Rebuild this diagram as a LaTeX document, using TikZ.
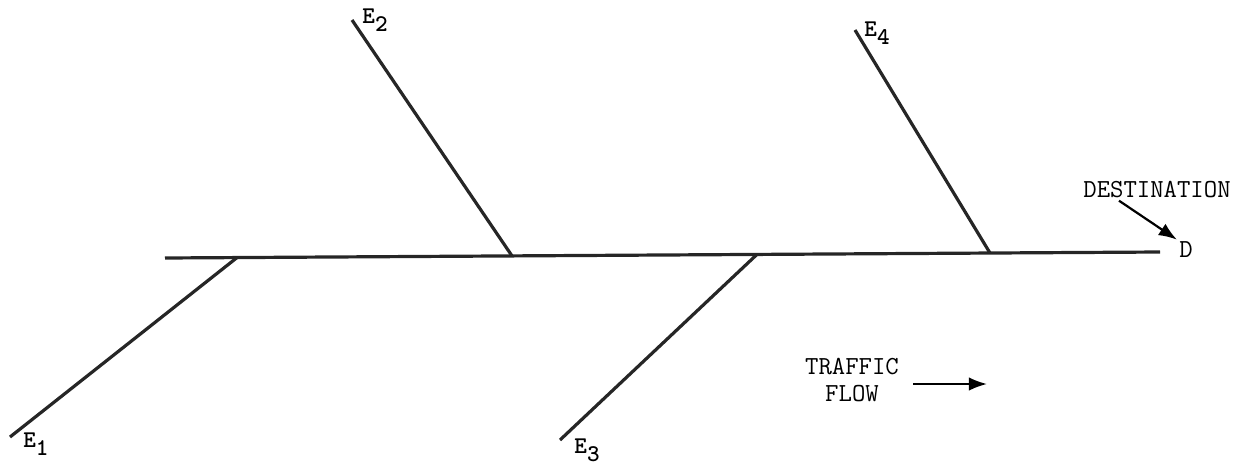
\documentclass[tikz,border=0pt]{standalone}
\usepackage{fontspec}
\usetikzlibrary{arrows.meta,positioning}
\newcommand{\entry}[1]{E\raisebox{-0.8ex}{#1}}
\tikzset{
  road/.style={line width=1.6pt, draw=black!85},
  entrylabel/.style={font=\ttfamily\bfseries\fontsize{12}{13}\selectfont, inner sep=1pt},
  caption/.style={font=\ttfamily\fontsize{13}{13.5}\selectfont, align=center, inner sep=1pt},
  flowarrow/.style={-{Latex[length=3.2mm,width=2.4mm]}, line width=1.1pt}
}

\begin{document}
\begin{tikzpicture}[x=0.5pt,y=-0.5pt]
  \useasboundingbox (0,0) rectangle (1233,467);
  % main road and junctions
  \coordinate (west) at (165,258);
  \coordinate (east) at (1160,252);
  \coordinate (j1) at (237,257.6);
  \coordinate (j2) at (512,255.9);
  \coordinate (j3) at (757,254.4);
  \coordinate (j4) at (990,253.0);
  % ends of the entry roads
  \coordinate (e1end) at (10,437);
  \coordinate (e2end) at (352,20);
  \coordinate (e3end) at (560,440);
  \coordinate (e4end) at (855,30);
  \node[entrylabel] (e1) at (36,444) {\entry{1}};
  \node[entrylabel] (e2) at (375,20) {\entry{2}};
  \node[entrylabel] (e3) at (587,450) {\entry{3}};
  \node[entrylabel] (e4) at (877,33) {\entry{4}};
  \node[caption] (d) at (1186,250) {D};
  \node[caption] (dest) at (1157,190) {DESTINATION};
  \node[caption] (traffic) at (852,380) {TRAFFIC\\FLOW};
  \coordinate (flowstart) at (913,384);
  \coordinate (flowend) at (987,384);

  \draw[road] (west) -- (east);
  \draw[road] (j1) -- (e1end);
  \draw[road] (j2) -- (e2end);
  \draw[road] (j3) -- (e3end);
  \draw[road] (j4) -- (e4end);
  \draw[flowarrow] ([xshift=-19pt]dest.south) -- (d.north west);
  \draw[flowarrow] (flowstart) -- (flowend);
\end{tikzpicture}
\end{document}
